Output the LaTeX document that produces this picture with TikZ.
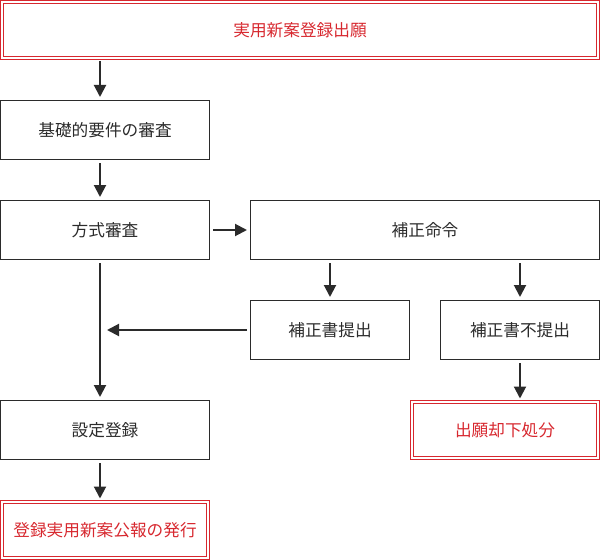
\documentclass[tikz,border=0pt]{standalone}
\usepackage{fontspec}
\setmainfont{Noto Sans CJK JP}
\usetikzlibrary{arrows.meta}
\definecolor{boxred}{HTML}{D7282F}
\definecolor{ink}{HTML}{2B2B2B}
\begin{document}
\begin{tikzpicture}[x=0.75pt,y=-0.75pt,>={Triangle[length=9pt,width=9pt]},thick,
	step box/.style={rectangle,draw=ink,line width=0.75pt,text=ink,font=\fontsize{12.5}{14}\selectfont,minimum height=44.25pt,inner sep=0pt},
	end box/.style={rectangle,draw=boxred,line width=0.75pt,double,double distance=1.5pt,text=boxred,font=\fontsize{12.5}{14}\selectfont,minimum height=42pt,inner sep=0pt},
	flow/.style={->,draw=ink,line width=1.5pt,shorten >=2.25pt,shorten <=2.25pt}]
		\useasboundingbox (0,0) rectangle (600,560);
		\node[end box,minimum width=447pt] (apply) at (300,30) {実用新案登録出願};
		\node[step box,minimum width=156.75pt] (basic) at (105,130) {基礎的要件の審査};
		\node[step box,minimum width=156.75pt] (formal) at (105,230) {方式審査};
		\node[step box,minimum width=261.75pt] (order) at (425,230) {補正命令};
		\node[step box,minimum width=119.25pt] (submit) at (330,330) {補正書提出};
		\node[step box,minimum width=119.25pt] (nosubmit) at (520,330) {補正書不提出};
		\node[step box,minimum width=156.75pt] (register) at (105,430) {設定登録};
		\node[end box,minimum width=139.5pt] (reject) at (505,430) {出願却下処分};
		\node[end box,minimum width=154.5pt] (publish) at (105,530) {登録実用新案公報の発行};
		\coordinate (join) at (100,330);
		
		\path[every edge/.style=flow]
		(apply.south -| join) edge (basic.north -| join)
		(basic.south -| join) edge (formal.north -| join)
		(formal) edge (order)
		(order.south -| submit) edge (submit)
		(order.south -| nosubmit) edge (nosubmit)
		(formal.south -| join) edge (register.north -| join)
		(submit) edge[shorten >=5.25pt] (join)
		(nosubmit) edge (reject.north -| nosubmit)
		(register.south -| join) edge (publish.north -| join)
		;
		\end{tikzpicture}
\end{document}
